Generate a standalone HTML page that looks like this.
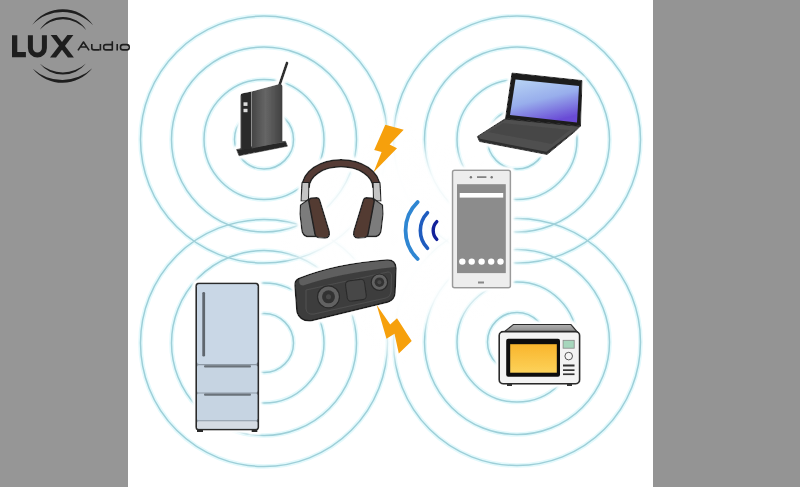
<!DOCTYPE html>
<html><head><meta charset="utf-8">
<style>
html,body{margin:0;padding:0;width:800px;height:487px;overflow:hidden;background:#fff;}
svg{position:absolute;left:0;top:0;display:block;filter:blur(0.4px);}
</style></head>
<body>
<svg width="800" height="487" viewBox="0 0 800 487">
<defs>
  <linearGradient id="scr" x1="0.15" y1="0" x2="0.55" y2="1">
    <stop offset="0" stop-color="#b6d2f4"/>
    <stop offset="0.5" stop-color="#98aeec"/>
    <stop offset="1" stop-color="#6a4cd6"/>
  </linearGradient>
  <linearGradient id="rside" x1="0" y1="0" x2="1" y2="0">
    <stop offset="0" stop-color="#444"/>
    <stop offset="0.45" stop-color="#666"/>
    <stop offset="1" stop-color="#404040"/>
  </linearGradient>
  <linearGradient id="mwy" x1="0" y1="0" x2="0" y2="1">
    <stop offset="0" stop-color="#f9b52c"/>
    <stop offset="1" stop-color="#fcd25a"/>
  </linearGradient>
  <linearGradient id="mwtop" x1="0" y1="0" x2="0" y2="1">
    <stop offset="0" stop-color="#b2b2b2"/>
    <stop offset="1" stop-color="#888"/>
  </linearGradient>
  <filter id="halo" x="-20%" y="-20%" width="140%" height="140%">
    <feMorphology in="SourceAlpha" operator="dilate" radius="2.5" result="d"/>
    <feGaussianBlur in="d" stdDeviation="1" result="db"/>
    <feFlood flood-color="#fff"/>
    <feComposite in2="db" operator="in" result="w"/>
    <feMerge><feMergeNode in="w"/><feMergeNode in="SourceGraphic"/></feMerge>
  </filter>
  <radialGradient id="hz">
    <stop offset="0" stop-color="#fff" stop-opacity="0.93"/>
    <stop offset="0.65" stop-color="#fff" stop-opacity="0.88"/>
    <stop offset="0.85" stop-color="#fff" stop-opacity="0.55"/>
    <stop offset="1" stop-color="#fff" stop-opacity="0"/>
  </radialGradient>
  <g id="ringsH" fill="none" stroke="#e3f9fc" stroke-width="4.6">
    <circle r="29.5"/><circle r="60"/><circle r="92.5"/><circle r="123.5"/>
  </g>
  <g id="ringsC" fill="none" stroke="#9ecfd8" stroke-width="1.5">
    <circle r="29.5"/><circle r="60"/><circle r="92.5"/><circle r="123.5"/>
  </g>
</defs>

<!-- rings -->
<use href="#ringsH" x="264" y="139.5"/>
<use href="#ringsH" x="517" y="139.5"/>
<use href="#ringsH" x="264" y="343"/>
<use href="#ringsH" x="517" y="342"/>
<use href="#ringsC" x="264" y="139.5"/>
<use href="#ringsC" x="517" y="139.5"/>
<use href="#ringsC" x="264" y="343"/>
<use href="#ringsC" x="517" y="342"/>

<!-- haze -->
<ellipse cx="405" cy="238" rx="125" ry="100" fill="url(#hz)"/>
<ellipse cx="393" cy="238" rx="40" ry="132" fill="url(#hz)"/>
<!-- router -->
<g filter="url(#halo)">
  <line x1="287" y1="63" x2="278.5" y2="88" stroke="#2e2e2e" stroke-width="2.8" stroke-linecap="round"/>
  <polygon points="236.5,149.5 285.5,141.2 287.5,146.2 239,155.8" fill="#262626" stroke="#262626" stroke-width="0.8" stroke-linejoin="round"/>
  <line x1="237.5" y1="149.6" x2="285" y2="141.6" stroke="#5c5c5c" stroke-width="1"/>
  <path d="M251.5,91.5 L279.5,84 Q282.5,83.4 282.5,86.5 L282.5,142 L251.5,148.5 Z" fill="url(#rside)"/>
  <path d="M242.5,93.2 L251.5,91.5 L251.5,148.5 L240.5,150.5 L240.5,95.5 Q240.5,93.6 242.5,93.2 Z" fill="#2a2a2a"/>
  <line x1="241.2" y1="96" x2="241.2" y2="149.5" stroke="#4a4a4a" stroke-width="0.8"/>
  <rect x="243.5" y="102.3" width="4" height="3.6" fill="#dcdcdc"/>
  <rect x="243.5" y="108.8" width="4" height="3.4" fill="#dcdcdc"/>
</g>

<!-- laptop -->
<g filter="url(#halo)">
  <polygon points="505.5,118.5 580.5,126 575,131.5 547,154.5 479.5,141.5 477.3,136.5" fill="#2e2e2e" stroke="#2e2e2e" stroke-width="1" stroke-linejoin="round"/>
  <polygon points="505.5,119.5 579,126.8 573.5,131.5 546.5,151.8 480,138.7 478.5,136" fill="#505050"/>
  <polygon points="503,123 570,130 552,144 488,132" fill="#474747"/>
  <polygon points="512,73 582,80.5 580.5,126 505.5,118.5" fill="#1e1e1e" stroke="#1a1a1a" stroke-width="1" stroke-linejoin="round"/>
  <polygon points="515.5,79.5 579,86 577,122.5 510,115" fill="url(#scr)"/>
</g>

<!-- headphones -->
<g stroke-linejoin="round" filter="url(#halo)">
  <path d="M305.5,188 C305.5,174 321,163.3 341,163.3 C361,163.3 376.5,174 376.5,188" fill="none" stroke="#222" stroke-width="8.6"/>
  <path d="M305.5,188 C305.5,174 321,163.3 341,163.3 C361,163.3 376.5,174 376.5,188" fill="none" stroke="#553b34" stroke-width="5.6"/>
  <path d="M302,182.5 L309,182.5 L308.5,201 L301,201 Z" fill="#c4c4c4" stroke="#222" stroke-width="1.2"/>
  <path d="M380,182.5 L373,182.5 L373.5,201 L381,201 Z" fill="#c4c4c4" stroke="#222" stroke-width="1.2"/>
  <path d="M300.5,205 L309,199 L316,236.5 L307,236.5 Q303,235.5 302,231 L300,214 Z" fill="#7c7c7c" stroke="#222" stroke-width="1.3"/>
  <path d="M382.5,205 L374,199 L367,236.5 L376,236.5 Q380,235.5 381,231 L383,214 Z" fill="#7c7c7c" stroke="#222" stroke-width="1.3"/>
  <path d="M308.8,201 Q309,198.2 312,198 L317,197.8 Q319,197.8 319.6,200 L329.2,231.5 Q330.2,237.8 325,238 L318.5,237.6 Q315.5,237.3 315,234 Z" fill="#533a33" stroke="#222" stroke-width="1.4"/>
  <path d="M374.2,201 Q374,198.2 371,198 L366,197.8 Q364,197.8 363.4,200 L353.8,231.5 Q352.8,237.8 358,238 L364.5,237.6 Q367.5,237.3 368,234 Z" fill="#533a33" stroke="#222" stroke-width="1.4"/>
</g>

<!-- speaker -->
<g filter="url(#halo)">
  <path d="M299,278.5 Q335,264 387,260 Q395.5,259.5 396,268 L395,293 Q394.5,300 388,302 L312,320.5 Q300,322 297,312 L295,286 Q294.5,280 299,278.5 Z" fill="#3e3e3e" stroke="#1a1a1a" stroke-width="1.5"/>
  <path d="M299.5,279 Q335,264.5 387,260.6 Q394,260.5 395,267 Q340,273 303,285.5 Q298,285 299.5,279 Z" fill="#5e5e5e"/>
  <path d="M306,290 L388,272 Q392,272 391.5,277 L391,292 Q390.5,297 386,298 L314,314 Q307,315 306,309 Z" fill="none" stroke="#4e4e4e" stroke-width="1"/>
  <circle cx="328.5" cy="296.8" r="11" fill="#626262" stroke="#2a2a2a" stroke-width="1.2"/>
  <circle cx="328.5" cy="296.8" r="6.5" fill="#333"/>
  <circle cx="328.5" cy="296.8" r="2.5" fill="#4a4a4a"/>
  <circle cx="379.4" cy="282.2" r="8.2" fill="#626262" stroke="#2a2a2a" stroke-width="1.2"/>
  <circle cx="379.4" cy="282.2" r="4.8" fill="#333"/>
  <circle cx="379.4" cy="282.2" r="2" fill="#4a4a4a"/>
  <rect x="346.3" y="280" width="19.2" height="20.5" rx="4" fill="#474747" stroke="#2c2c2c" stroke-width="1.2" transform="rotate(-8 355.9 290.2)"/>
</g>

<!-- phone -->
<g filter="url(#halo)">
  <rect x="452.5" y="170.3" width="57.9" height="117.5" rx="2" fill="#ededed" stroke="#9a9a9a" stroke-width="1.5"/>
  <rect x="457" y="184.2" width="48.8" height="88.9" fill="#8c8c8c"/>
  <rect x="459.7" y="193" width="43.5" height="4.6" fill="#fff"/>
  <g fill="#fff">
    <circle cx="462.3" cy="261.6" r="3.2"/><circle cx="471.7" cy="261.6" r="3.2"/><circle cx="481.6" cy="261.6" r="3.2"/><circle cx="491.2" cy="261.6" r="3.2"/><circle cx="500.5" cy="261.6" r="3.2"/>
  </g>
  <rect x="477" y="176.3" width="9.4" height="1.6" fill="#777"/>
  <circle cx="470.9" cy="177.3" r="1.2" fill="#777"/>
  <circle cx="491.7" cy="177.3" r="1.2" fill="#777"/>
  <rect x="478" y="281.5" width="6" height="2" fill="#888"/>
</g>

<!-- wifi waves -->
<g fill="none" stroke-linecap="round">
  <path d="M417.6,202.1 A39.5,39.5 0 0 0 417.6,258.9" stroke="#2f86d2" stroke-width="3.8"/>
  <path d="M427.5,212.7 A25.7,25.7 0 0 0 427.5,248.3" stroke="#1f5cbf" stroke-width="3.6"/>
  <path d="M436.8,221.6 A12.8,12.8 0 0 0 436.8,239.4" stroke="#13229a" stroke-width="3.4"/>
</g>

<!-- lightning -->
<polygon points="385.3,124.8 403.7,129.7 389.6,144.5 397,148.2 373.6,172.2 381.6,151.9 374.2,150" fill="#f6a00c"/>
<polygon points="376.6,304.8 390.2,324.5 397,318.3 411.7,341.1 398.8,353.5 394.5,333.7 386.5,338.7" fill="#f6a00c"/>

<!-- fridge -->
<g filter="url(#halo)">
  <rect x="195.2" y="282.5" width="64" height="148" rx="3.5" fill="#2a2a2a"/>
  <rect x="197" y="284.2" width="60.4" height="144.6" rx="2" fill="#8e9aa6"/>
  <rect x="197" y="284.2" width="60.4" height="79.8" rx="2" fill="#c9d7e6"/>
  <rect x="197" y="365.2" width="60.4" height="27.2" rx="1.5" fill="#c6d4e2"/>
  <rect x="197" y="393.6" width="60.4" height="26.6" rx="1.5" fill="#c6d4e2"/>
  <rect x="197" y="421.2" width="60.4" height="7.6" rx="1.5" fill="#d5dbe3"/>
  <rect x="204" y="365.2" width="47" height="2.2" rx="1" fill="#6a727a"/>
  <rect x="204" y="393.6" width="47" height="2.2" rx="1" fill="#6a727a"/>
  <rect x="202.3" y="292" width="2.8" height="64.5" rx="1.3" fill="#5e666e"/>
  <rect x="197" y="429" width="6" height="3" fill="#2a2a2a"/>
  <rect x="251.5" y="429" width="6" height="3" fill="#2a2a2a"/>
</g>

<!-- microwave -->
<g filter="url(#halo)">
  <path d="M503.9,332 L513.3,324.5 L571,324.5 L577.4,332 Z" fill="url(#mwtop)" stroke="#2a2a2a" stroke-width="1.2" stroke-linejoin="round"/>
  <rect x="499.1" y="331.6" width="80.6" height="52.2" rx="4" fill="#f3f3f3" stroke="#2a2a2a" stroke-width="1.8"/>
  <rect x="506.2" y="338.7" width="53.8" height="38" rx="2" fill="#111"/>
  <rect x="510.2" y="344.2" width="46.6" height="28.5" fill="url(#mwy)"/>
  <rect x="563.1" y="340.3" width="11.1" height="7.9" fill="#a6d6bc" stroke="#888" stroke-width="0.8"/>
  <circle cx="568.7" cy="356.1" r="3.8" fill="#f4f4f4" stroke="#555" stroke-width="1"/>
  <rect x="563" y="364.5" width="11.5" height="2" fill="#333"/>
  <rect x="563" y="369.3" width="11.5" height="1.7" fill="#333"/>
  <rect x="563" y="373.4" width="11.5" height="1.7" fill="#333"/>
  <rect x="507" y="384" width="5" height="2" fill="#333"/>
  <rect x="567" y="384" width="5" height="2" fill="#333"/>
</g>

<!-- side bars -->
<rect x="0" y="0" width="128" height="487" fill="#969696"/>
<rect x="653" y="0" width="147" height="487" fill="#949494"/>

<!-- logo -->
<g fill="#1e1e1e">
  <path d="M32.2,25 A37.04,37.04 0 0 1 93.3,25.5 A41.95,41.95 0 0 0 32.2,25 Z"/>
  <path d="M39.7,29.8 A27.36,27.36 0 0 1 86.4,30.3 A30.64,30.64 0 0 0 39.7,29.8 Z"/>
  <path d="M39.7,63.4 A29.42,29.42 0 0 0 85.9,63.4 A34.15,34.15 0 0 1 39.7,63.4 Z"/>
  <path d="M32.8,68.8 A38.10,38.10 0 0 0 92.3,68.2 A44.23,44.23 0 0 1 32.8,68.8 Z"/>
</g>
<g fill="#1e1e1e">
  <path d="M12,35.2 H17.3 V51.9 H25.9 V57.2 H12 Z"/>
  <polygon points="50.7,35.1 56.6,35.1 73.9,57.4 67.9,57.4"/>
  <polygon points="67.4,35.1 73.4,35.1 56,57.4 50,57.4"/>
</g>
<path d="M30.4,35.2 V48 A7,7 0 0 0 44.4,48 V35.2" fill="none" stroke="#1e1e1e" stroke-width="5"/>
<g fill="none" stroke="#1e1e1e" stroke-width="1.6" stroke-linejoin="round">
  <path d="M78,50.4 L83.5,42 L89.1,50.4 M80.3,47 H86.8"/>
  <path d="M91.8,43.9 V48 Q91.8,49.9 94,49.9 H99.4 M100.4,43.9 V50.5"/>
  <path d="M112.3,41.3 V50.5 M112.3,49.9 H105.9 Q103.7,49.9 103.7,47.8 V46.6 Q103.7,44.6 105.9,44.6 H112.3"/>
  <path d="M117.2,44 V50.5"/>
  <rect x="120.5" y="44.6" width="8.7" height="5.3" rx="2.4"/>
</g>
</svg>
</body></html>
